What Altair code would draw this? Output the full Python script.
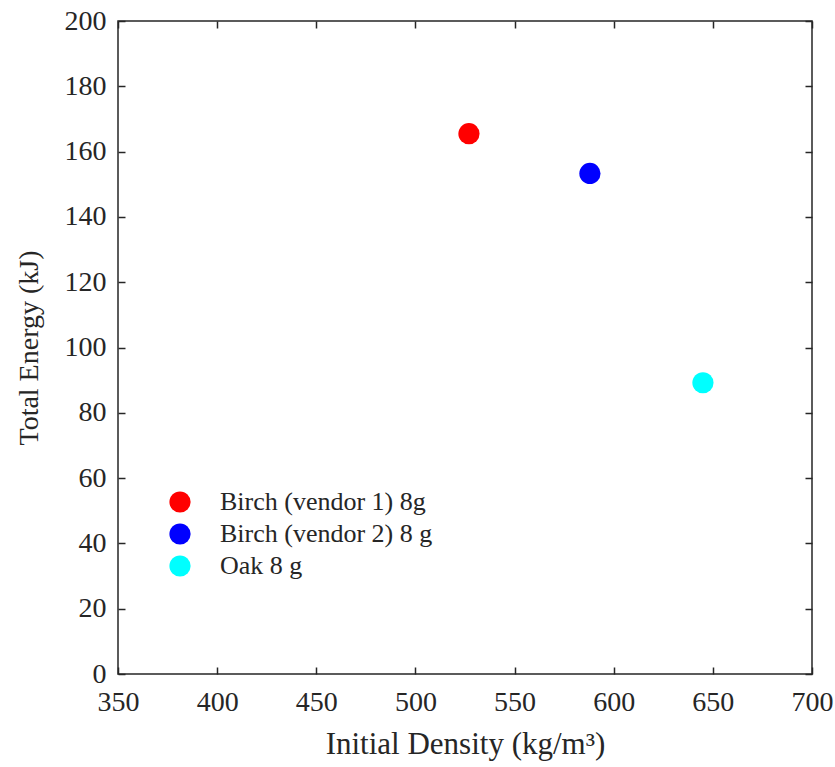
import altair as alt
import pandas as pd

density = [527, 588, 645]
energy = [165.5, 153.3, 89.2]
series = ["Birch (vendor 1) 8g", "Birch (vendor 2) 8 g", "Oak 8 g"]
colors = ["#ff0000", "#0000ff", "#00ffff"]
x_ticks = [350, 400, 450, 500, 550, 600, 650, 700]
y_ticks = [0, 20, 40, 60, 80, 100, 120, 140, 160, 180, 200]

df = pd.DataFrame({"density": density, "energy": energy, "series": series})

W, H = 694, 653
FONT = "Liberation Serif"
INK = "#262626"
tick_in = alt.ExprRef(expr="-7")

xs = alt.Scale(domain=[350, 700], nice=False)
ys = alt.Scale(domain=[0, 200], nice=False)

main = alt.Chart(df).mark_circle(size=450, opacity=1).encode(
    x=alt.X("density:Q", scale=xs,
            axis=alt.Axis(title="Initial Density (kg/m³)", values=x_ticks, grid=False, domain=False,
                          tickSize=tick_in, tickWidth=1.5, tickColor=INK, labelFlush=False,
                          labelPadding=21, labelFontSize=28, labelFont=FONT, labelColor=INK,
                          titleFontSize=31, titleFont=FONT, titleFontWeight="normal", titleColor=INK,
                          titlePadding=13)),
    y=alt.Y("energy:Q", scale=ys,
            axis=alt.Axis(title="Total Energy (kJ)", values=y_ticks, grid=False, domain=False,
                          tickSize=tick_in, tickWidth=1.5, tickColor=INK, labelFlush=False,
                          labelPadding=19, labelFontSize=28, labelFont=FONT, labelColor=INK,
                          titleFontSize=28, titleFont=FONT, titleFontWeight="normal", titleColor=INK,
                          titlePadding=21)),
    color=alt.Color("series:N", scale=alt.Scale(domain=series, range=colors),
                    legend=alt.Legend(title=None, orient="none", legendX=49, legendY=468,
                                      symbolType="circle", symbolSize=450, symbolStrokeWidth=0,
                                      symbolOpacity=1, labelLimit=0,
                                      labelFont=FONT, labelFontSize=26, labelColor=INK,
                                      labelOffset=27, rowPadding=6, padding=0)),
)

frame = alt.Chart(df).mark_circle(opacity=0).encode(
    x=alt.X("density:Q", scale=xs,
            axis=alt.Axis(orient="top", title=None, values=x_ticks, labels=False, grid=False,
                          domain=False, tickSize=tick_in, tickWidth=1.5, tickColor=INK)),
    y=alt.Y("energy:Q", scale=ys,
            axis=alt.Axis(orient="right", title=None, values=y_ticks, labels=False, grid=False,
                          domain=False, tickSize=tick_in, tickWidth=1.5, tickColor=INK)),
)

chart = alt.layer(main, frame).resolve_axis(x="independent", y="independent").properties(
    width=W, height=H,
    autosize=alt.AutoSizeParams(type="none"),
    padding={"left": 118, "top": 21, "right": 23, "bottom": 93},
).configure_view(stroke=INK, strokeWidth=1.5)

chart.save("out.html", embed_options={"renderer": "svg", "actions": False})
